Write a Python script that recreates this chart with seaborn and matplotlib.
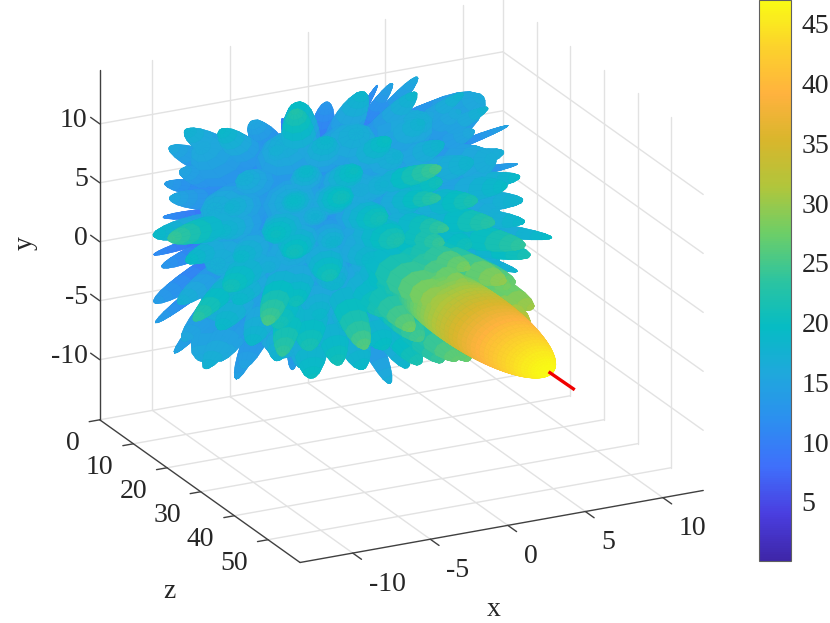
import numpy as np
import matplotlib
matplotlib.use('Agg')
import matplotlib.pyplot as plt
import seaborn as sns
from matplotlib.cm import ScalarMappable
from matplotlib.colors import Normalize
from mpl_toolkits.mplot3d import proj3d
from mpl_toolkits.mplot3d.art3d import Poly3DCollection

# axis ranges and ticks
x_lim = (-13.4, 12.6)
y_lim = (-15.1, 14.6)
z_lim = (0, 59.5)
x_ticks = [-10, -5, 0, 5, 10]
y_ticks = [-10, -5, 0, 5, 10]
z_ticks = [0, 10, 20, 30, 40, 50]
cbar_ticks = [5, 10, 15, 20, 25, 30, 35, 40, 45]
value_range = (0.05, 47)

# colours, bottom to top
bar_colors = ['#3e26a8', '#4a3ee0', '#3f6ffb', '#2c8ff0', '#1fa8dc', '#06bcc4',
              '#2cc4a0', '#6cce68', '#b0c63c', '#d8b62c', '#ffb23e', '#fcd22c', '#f9fb15']

# main lobe tip and the red beam line
main_tip = (5.45, -6.0, 46.5)
main_w = 2.3
beam_x = [5.45, 6.05]
beam_y = [-6.0, -6.65]
beam_z = [46.5, 51.5]

# broad lobes that make the solid body
core_x = [-9, -4.5, 0, 4.5, 9, -9, -4.5, 0, 4.5, 9, -9, -4.5, 0, 4.5, 9, -9, -4.5, 0, 4.5, 9, -9, -4.5, 0, 4.5, 9]
core_y = [9, 9, 9, 9, 9, 4.5, 4.5, 4.5, 4.5, 4.5, 0, 0, 0, 0, 0, -4.5, -4.5, -4.5, -4.5, -4.5, -9, -9, -9, -9, -9]
core_z = [10, 13.5, 14.5, 13.5, 10, 13.5, 15.5, 16, 15.5, 13.5, 14.5, 16, 16.5, 16, 14.5,
          13.5, 15.5, 16, 16, 14.5, 10, 13.5, 14.5, 14.5, 12]
core_w = [2.4] * 25

# side lobes on the rim of the pattern
rim_x = [-10.0, -10.6, -10.7, -10.0, -10.4, -12.9, -10.8, -10.9, -11.4, -11.1, -10.1, -9.2, -5.9, -2.5, -3.4,
         1.4, 3.6, 3.4, 3.9, 5.0, 5.7, 7.5, 8.0, 7.7, 10.5, 10.0, 12.5, 10.5, 10.6, 10.2,
         11.8, 11.2, 8.8, 7.2, 4.9, 3.5, 3.2, 0.5, -0.5, -3.9, -2.5, -5.7, -8.4, 5.4, 3.9]
rim_y = [10.7, 9.0, 5.75, 4.2, 2.4, 3.3, -0.9, -1.3, -4.2, -6.2, -8.8, -9.3, -12.2, -12.0, -10.4,
         -12.3, -14.4, -11.8, -9.8, -9.3, -8.9, -5.5, -4.8, -3.2, -5.3, -3.0, -2.7, -0.7, 0.9, 3.2,
         2.3, 5.7, 8.8, 10.4, 11.7, 11.3, 10.6, 12.2, 10.4, 12.5, 8.7, 10.4, 10.9, 8.9, 11.4]
rim_z = [10, 8, 7, 6, 5, 14, 4, 7, 7, 6, 7, 12, 6, 7, 17,
         10, 8, 14, 22, 25, 27, 31, 27, 26, 14, 18, 15, 16, 15, 16,
         8, 8, 13, 13, 10, 9, 6, 14, 8, 15, 4, 10, 13, 12, 14]
rim_w = [1.0, 0.9, 0.7, 0.4, 0.4, 1.0, 0.4, 0.7, 0.9, 0.5, 0.6, 1.0, 0.7, 0.6, 1.3,
         0.9, 0.7, 0.9, 1.1, 1.1, 1.2, 1.3, 1.3, 1.0, 0.5, 0.8, 0.6, 0.9, 1.0, 0.9,
         0.4, 0.35, 0.7, 0.7, 0.6, 0.5, 0.25, 1.1, 0.8, 1.2, 0.3, 1.0, 1.0, 1.0, 0.9]

# side lobes facing the viewer
face_x = [-8.2, -5.1, -2.3, 1.2, 4.1, 7.2,
          -10.1, -7.2, -3.8, -1.1, 2.3, 5.2, 8.1,
          -11.0, -8.3, -4.8, -2.1, 1.3, 4.2, 7.1, 9.8,
          -9.1, -6.2, -3.2, 0.2, 3.1, 6.3, 9.1,
          -11.2, -8.1, -5.2, -2.2, 1.1, 4.2, 7.2, 10.1,
          -9.2, -6.1, -3.1, 0.1, 3.2, 6.1, 9.2,
          -11.1, -8.2, -5.1, -2.1, 1.2, 4.1, 7.1, 10.2,
          -9.1, -6.2, -3.1, 0.2, 3.1, 6.1, 8.2,
          -10.2, -7.1, -4.2, -1.1, 2.1, 5.2, 7.1,
          -8.1, -5.2, -2.1, 1.1, 4.2, 6.1,
          -6.1, -3.2, 0.1, 3.1]
face_y = [9.1, 8.8, 9.2, 8.9, 9.1, 8.7,
          7.1, 6.8, 7.2, 7.0, 6.9, 7.2, 6.8,
          5.2, 4.8, 5.1, 5.2, 4.9, 5.0, 5.2, 4.8,
          3.1, 2.8, 3.2, 3.0, 2.9, 3.1, 2.9,
          1.1, 0.8, 1.2, 0.9, 1.1, 0.8, 1.2, 1.0,
          -1.1, -0.8, -1.2, -0.9, -1.1, -0.9, -1.2,
          -3.1, -2.9, -3.2, -2.8, -3.1, -3.0, -3.2, -2.9,
          -5.1, -4.8, -5.2, -4.9, -5.1, -5.2, -4.8,
          -7.1, -6.9, -7.2, -6.8, -7.1, -7.0, -6.8,
          -9.1, -8.9, -9.2, -8.8, -9.1, -8.9,
          -10.6, -10.4, -10.7, -10.4]
face_z = [10, 14, 16, 18, 15, 12,
          9, 14, 17, 19, 16, 16, 12,
          10, 15, 18, 20, 17, 20, 16, 13,
          16, 19, 17, 21, 18, 21, 17,
          16, 17, 20, 18, 22, 19, 22, 15,
          19, 16, 21, 19, 22, 20, 22,
          13, 17, 20, 18, 23, 25, 27, 19,
          16, 20, 18, 22, 26, 29, 29,
          10, 16, 20, 18, 24, 30, 27,
          11, 15, 19, 18, 25, 25,
          9, 13, 16, 19]
face_w = [1.2, 1.0, 1.3, 1.1, 1.2, 1.0,
          1.0, 1.3, 1.1, 1.2, 1.4, 1.1, 1.0,
          0.9, 1.2, 1.1, 1.3, 1.2, 1.1, 1.3, 1.0,
          1.2, 1.4, 1.1, 1.3, 1.2, 1.1, 1.2,
          1.0, 1.2, 1.3, 1.1, 1.4, 1.2, 1.1, 1.0,
          1.3, 1.1, 1.2, 1.4, 1.1, 1.3, 1.1,
          1.0, 1.2, 1.1, 1.3, 1.2, 1.3, 1.2, 1.0,
          1.2, 1.3, 1.1, 1.2, 1.3, 1.2, 1.3,
          1.0, 1.2, 1.3, 1.1, 1.2, 1.3, 1.1,
          1.1, 1.2, 1.1, 1.3, 1.2, 1.1,
          1.0, 1.1, 1.2, 1.1]

# greener streaks that stand out on the body
streak_x = [-13.2, 3.3, -7.8, -1.7, -6.4, -11.6, -4.7, 3.8, 4.3, 3.5, 3.5, 3.75, 0.9, 2.0, 2.1, 6.4]
streak_y = [4.3, 7.2, -3.4, -6.7, -6.8, -3.0, 12.7, 1.9, -0.75, 4.4, 0.75, -1.65, -5.4, -4.6, -2.7, -2.2]
streak_z = [20, 24, 24, 25, 22, 20, 18, 24, 28, 23, 24, 30, 27, 27, 31, 29]
streak_w = [1.1, 0.9, 1.0, 1.0, 1.0, 0.9, 1.1, 0.8, 1.0, 0.8, 0.9, 0.9, 1.0, 0.8, 1.4, 1.2]


def lobe_faces(tip, width, start=0.3, nu=14, nv=10):
    # ellipsoid between start*tip and the tip, returned as quads
    tip = np.asarray(tip, dtype=float)
    axis = tip / np.linalg.norm(tip)
    e1 = np.cross(axis, [0.0, 1.0, 0.0])
    e1 /= np.linalg.norm(e1)
    e2 = np.cross(axis, e1)
    s = (1 - np.cos(np.linspace(0, np.pi, nu + 1))) / 2
    radius = width * np.sqrt(np.clip(1 - (2 * s - 1) ** 2, 0, 1))
    ang = np.linspace(0, 2 * np.pi, nv + 1)
    t = start + (1 - start) * s
    pts = (t[:, None, None] * tip[None, None, :]
           + radius[:, None, None] * (np.cos(ang)[None, :, None] * e1 + np.sin(ang)[None, :, None] * e2))
    quads = np.stack([pts[:-1, :-1], pts[:-1, 1:], pts[1:, 1:], pts[1:, :-1]], axis=2)
    return quads.reshape(-1, 4, 3)


sns.set_theme(style='white')
plt.rcParams['font.family'] = ['Liberation Serif', 'DejaVu Serif']
text_color = '#262626'
label_size = 20

cmap = sns.blend_palette(bar_colors, as_cmap=True)
norm = Normalize(*value_range)

fig = plt.figure(figsize=(8.3, 6.23), dpi=100)
side = 716
ax = fig.add_axes([33.8 / 830, -24.7 / 623, side / 830, side / 623], projection='3d', proj_type='ortho')
ax.computed_zorder = False
ax.set_box_aspect((450.6, 447, 374.6))
ax.view_init(elev=20.9, azim=-116.6)
ax.set_axis_off()
ax.patch.set_alpha(0)
ax.set_xlim3d(x_lim)
ax.set_ylim3d(z_lim[::-1])
ax.set_zlim3d(y_lim)


# the plot's y is vertical, so matplotlib's z axis carries y and its y axis carries z
def line(xs, ys, zs, **kw):
    ax.plot3D(xs, zs, ys, **kw)


def label(x, y, z, s, ha, dx, dy):
    u, v, _ = proj3d.proj_transform(x, z, y, ax.get_proj())
    ax.annotate(s, (u, v), xytext=(dx, dy), textcoords='offset pixels', ha=ha, va='center',
                fontsize=label_size, color=text_color, annotation_clip=False)


# grid on the back wall, the side wall and the floor
grid_kw = dict(color='#e2e2e2', lw=1.0, zorder=1)
for t in x_ticks:
    line([t, t], y_lim, [0, 0], **grid_kw)
    line([t, t], [y_lim[0]] * 2, z_lim, **grid_kw)
for t in y_ticks:
    line(x_lim, [t, t], [0, 0], **grid_kw)
    line([x_lim[1]] * 2, [t, t], z_lim, **grid_kw)
for t in z_ticks:
    line([x_lim[1]] * 2, y_lim, [t, t], **grid_kw)
    line(x_lim, [y_lim[0]] * 2, [t, t], **grid_kw)

# axis lines and tick marks
axis_kw = dict(color='#404040', lw=1.0, zorder=2)
line([x_lim[0]] * 2, y_lim, [0, 0], **axis_kw)
line([x_lim[0]] * 2, [y_lim[0]] * 2, z_lim, **axis_kw)
line(x_lim, [y_lim[0]] * 2, [z_lim[1]] * 2, **axis_kw)
for t in y_ticks:
    line([x_lim[0]] * 2, [t, t], [0, -2.7], **axis_kw)
    label(x_lim[0], t, 0, str(t), 'right', -12, 3)
for t in z_ticks:
    line([x_lim[0], x_lim[0] - 0.68], [y_lim[0]] * 2, [t, t], **axis_kw)
    label(x_lim[0], y_lim[0], t, str(t), 'right', -20, -24)
for t in x_ticks:
    line([t, t], [y_lim[0]] * 2, [z_lim[1], z_lim[1] + 2.6], **axis_kw)
    label(t, y_lim[0], z_lim[1], str(t), 'left', 16, -31)

# the pattern itself: every facet coloured by its distance from the origin
faces = [lobe_faces(main_tip, main_w, start=0.35, nu=60, nv=30)]
for px, py, pz, pw in zip(core_x, core_y, core_z, core_w):
    faces.append(lobe_faces((px, py, pz), pw, start=0.1))
for px, py, pz, pw in zip(rim_x + face_x + streak_x, rim_y + face_y + streak_y,
                          rim_z + face_z + streak_z, rim_w + face_w + streak_w):
    faces.append(lobe_faces((px, py, pz), pw))
faces = np.concatenate(faces)
colors = cmap(norm(np.linalg.norm(faces.mean(axis=1), axis=1)))
pattern = Poly3DCollection(faces[:, :, [0, 2, 1]], facecolors=colors, edgecolors=colors, linewidths=0.3, zorder=3)
ax.add_collection3d(pattern)
ax.set_xlim3d(x_lim)
ax.set_ylim3d(z_lim[::-1])
ax.set_zlim3d(y_lim)

line(beam_x, beam_y, beam_z, color='#f00000', lw=2.4, zorder=4, solid_capstyle='butt')

fig.text(494 / 830, 1 - 609 / 623, 'x', ha='center', va='center', fontsize=label_size, color=text_color)
fig.text(25 / 830, 1 - 243 / 623, 'y', ha='center', va='center', rotation=90, fontsize=label_size, color=text_color)
fig.text(169 / 830, 1 - 592 / 623, 'z', ha='center', va='center', fontsize=label_size, color=text_color)

# colour bar
cax = fig.add_axes([759 / 830, 1 - 561 / 623, 31.5 / 830, 561 / 623])
cbar = fig.colorbar(ScalarMappable(norm=norm, cmap=cmap), cax=cax, ticks=cbar_ticks)
cbar.ax.tick_params(direction='in', length=6, width=0.8, color='#404040', labelsize=label_size,
                    labelcolor=text_color, pad=8)
cbar.outline.set_edgecolor('#606060')
cbar.outline.set_linewidth(0.8)

fig.savefig('out.png', dpi=100)
